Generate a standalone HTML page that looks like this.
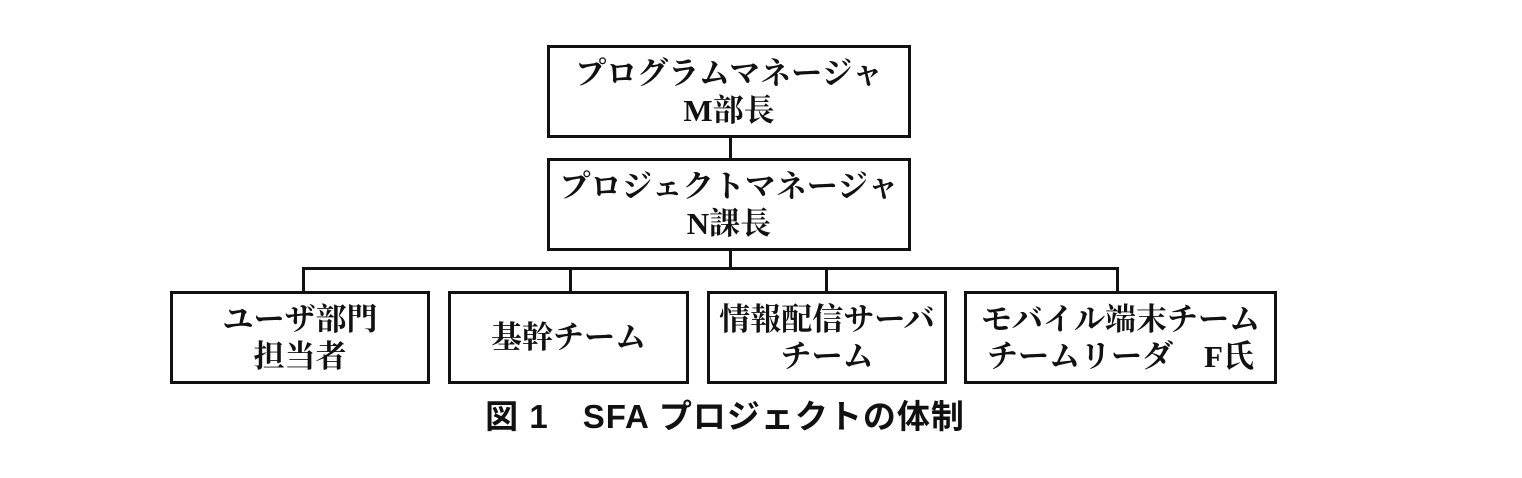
<!DOCTYPE html>
<html><head><meta charset="utf-8"><style>
body{margin:0;width:1522px;height:478px;background:#fff;position:relative;overflow:hidden}
.b{position:absolute;border:3px solid #111;box-sizing:border-box;display:flex;align-items:center;justify-content:center;text-align:center;font-family:"Liberation Serif","Noto Serif CJK SC","Noto Sans CJK JP",serif;font-weight:bold;font-size:31px;line-height:37px;color:#111;white-space:nowrap}
.l{position:absolute;background:#111}
.cap{position:absolute;left:420px;top:390px;width:610px;text-align:center;font-family:"Liberation Sans","Noto Sans CJK JP",sans-serif;font-weight:bold;font-size:33px;letter-spacing:1px;color:#111;white-space:pre}
</style></head><body>
<div class="b" style="left:547px;top:45px;width:364px;height:93px">プログラムマネージャ<br>M部長</div>
<div class="b" style="left:547px;top:158px;width:364px;height:93px">プロジェクトマネージャ<br>N課長</div>
<div class="l" style="left:729px;top:137px;width:3px;height:22px"></div>
<div class="l" style="left:729px;top:250px;width:3px;height:19px"></div>
<div class="l" style="left:302px;top:267px;width:817px;height:3px"></div>
<div class="l" style="left:302px;top:267px;width:3px;height:25px"></div>
<div class="l" style="left:569px;top:267px;width:3px;height:25px"></div>
<div class="l" style="left:825px;top:267px;width:3px;height:25px"></div>
<div class="l" style="left:1116px;top:267px;width:3px;height:25px"></div>
<div class="b" style="left:170px;top:291px;width:260px;height:93px">ユーザ部門<br>担当者</div>
<div class="b" style="left:448px;top:291px;width:241px;height:93px">基幹チーム</div>
<div class="b" style="left:707px;top:291px;width:240px;height:93px">情報配信サーバ<br>チーム</div>
<div class="b" style="left:964px;top:291px;width:313px;height:93px">モバイル端末チーム<br>チームリーダ　F氏</div>
<div class="cap">図 1　SFA プロジェクトの体制</div>
</body></html>
